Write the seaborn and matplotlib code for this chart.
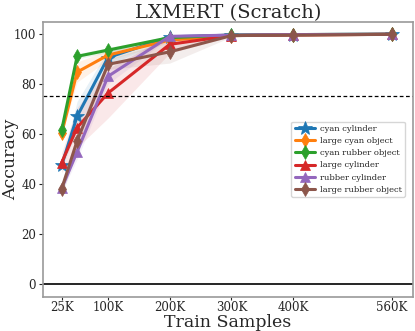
import matplotlib
matplotlib.use("Agg")
import matplotlib.pyplot as plt
import seaborn as sns
import numpy as np
import pandas as pd

# datos (x en miles de muestras)
train_k = [25, 50, 100, 200, 300, 400, 560]
tick_pos = [25, 100, 200, 300, 400, 560]
tick_labels = ["25K", "100K", "200K", "300K", "400K", "560K"]

series_names = ["cyan cylinder", "large cyan object", "cyan rubber object",
                "large cylinder", "rubber cylinder", "large rubber object"]
markers = ["*", "d", "d", "^", "^", "d"]

cyan_cylinder = [47.5, 67.0, 90.5, 98.8, 99.5, 99.7, 99.8]
large_cyan_object = [60.3, 84.7, 91.5, 97.5, 99.3, 99.6, 99.8]
cyan_rubber_object = [61.5, 91.0, 93.5, 98.5, 99.5, 99.7, 99.9]
large_cylinder = [48.5, 62.5, 76.3, 95.8, 99.3, 99.6, 99.8]
rubber_cylinder = [38.3, 52.8, 83.0, 99.0, 99.5, 99.7, 99.9]
large_rubber_object = [38.0, 57.2, 87.8, 92.8, 99.3, 99.5, 99.8]

# semi-anchura de la banda de confianza
ci_cyan_cylinder = [1.0, 6.0, 3.0, 0.8, 0.3, 0.2, 0.2]
ci_large_cyan_object = [1.0, 4.0, 2.0, 1.0, 0.3, 0.2, 0.2]
ci_cyan_rubber_object = [0.8, 1.0, 1.0, 0.5, 0.3, 0.2, 0.2]
ci_large_cylinder = [4.0, 8.0, 10.0, 3.5, 0.4, 0.3, 0.2]
ci_rubber_cylinder = [1.5, 3.0, 3.0, 0.5, 0.3, 0.2, 0.2]
ci_large_rubber_object = [3.0, 3.0, 2.0, 4.5, 0.5, 0.3, 0.2]

values = [cyan_cylinder, large_cyan_object, cyan_rubber_object,
          large_cylinder, rubber_cylinder, large_rubber_object]
cis = [ci_cyan_cylinder, ci_large_cyan_object, ci_cyan_rubber_object,
       ci_large_cylinder, ci_rubber_cylinder, ci_large_rubber_object]

sns.set_style("white")
plt.rcParams["font.family"] = ["DejaVu Serif"]

fig = plt.figure(figsize=(4.15, 3.31), dpi=100)
ax = fig.add_axes([0.104, 0.103, 0.891, 0.831])

colors = sns.color_palette("tab10", 6)
for name, vals, ci, m, c in zip(series_names, values, cis, markers, colors):
    df = pd.DataFrame({"x": train_k, "y": vals})
    sns.lineplot(data=df, x="x", y="y", ax=ax, color=c, marker=m,
                 markersize=10 if m == "*" else 7.5, linewidth=2.2,
                 markeredgewidth=0.5, markeredgecolor=c, label=name)
    lo = np.array(vals) - np.array(ci)
    hi = np.array(vals) + np.array(ci)
    ax.fill_between(train_k, lo, hi, color=c, alpha=0.1, linewidth=0)

ax.axhline(75, color="black", linestyle="--", linewidth=0.9, dashes=(3, 2))
ax.axhline(0, color="black", linewidth=1.2)

ax.set_xlim(-5, 594)
ax.set_ylim(-5.2, 104.8)
ax.set_xticks(tick_pos)
ax.set_xticklabels(tick_labels)
ax.set_yticks([0, 20, 40, 60, 80, 100])
ax.tick_params(axis="y", labelsize=8.5, length=3, width=0.8,
               direction="out", left=True, pad=2)
ax.tick_params(axis="x", labelsize=8.5, length=2, width=0.8,
               direction="out", bottom=True, pad=1)

for s in ax.spines.values():
    s.set_color("#9a9a9a")
    s.set_linewidth(1.2)

ax.set_title("LXMERT (Scratch)", fontsize=14, pad=3)
ax.set_xlabel("Train Samples", fontsize=12.5, labelpad=0)
ax.set_ylabel("Accuracy", fontsize=12.5)
ax.yaxis.set_label_coords(-0.066, 0.5)

ax.legend(loc="center right", bbox_to_anchor=(0.99, 0.5), fontsize=6,
          frameon=True, handlelength=2.4, labelspacing=0.5,
          borderpad=0.4, handletextpad=0.6)

fig.savefig("out.png", dpi=100)
